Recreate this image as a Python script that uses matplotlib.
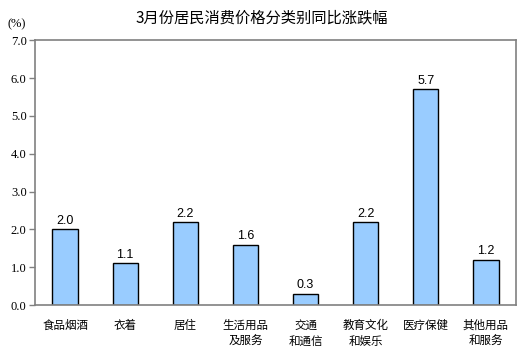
import matplotlib.pyplot as plt

categories = ['食品烟酒', '衣着', '居住', '生活用品\n及服务', '交通\n和通信',
              '教育文化\n和娱乐', '医疗保健', '其他用品\n和服务']
values = [2.0, 1.1, 2.2, 1.6, 0.3, 2.2, 5.7, 1.2]
yticks = [0.0, 1.0, 2.0, 3.0, 4.0, 5.0, 6.0, 7.0]

cjk = ['Noto Sans CJK SC', 'DejaVu Sans']

fig = plt.figure(figsize=(5.24, 3.52), dpi=100)
ax = fig.add_axes([0.0668, 0.1335, 0.918, 0.752])

x = range(len(values))
ax.bar(x, values, width=0.42, color='#99CCFF', edgecolor='black', linewidth=1.0)

for i, v in zip(x, values):
    ax.text(i, v + 0.06, f'{v:.1f}', ha='center', va='bottom',
            fontsize=9, family='Liberation Sans')

ax.set_xlim(-0.5, len(values) - 0.5)
ax.set_ylim(0, 7.0)
ax.set_yticks(yticks)
ax.set_yticklabels([f'{t:.1f}' for t in yticks], family='Liberation Serif', fontsize=9)
ax.set_xticks(list(x))
ax.set_xticklabels(categories, family=cjk, fontsize=8.3, linespacing=1.3, va='top')
ax.tick_params(axis='x', length=0, pad=10)
ax.tick_params(axis='y', length=4, width=1, color='#808080', pad=2)

for s in ax.spines.values():
    s.set_color('#808080')
    s.set_linewidth(1.2)

fig.text(0.5, 0.948, '3月份居民消费价格分类别同比涨跌幅', ha='center', va='center',
         family=cjk, fontsize=11)
fig.text(0.015, 0.932, '(%)', ha='left', va='center', family='Liberation Serif', fontsize=9)

fig.savefig('out.png', dpi=100)
